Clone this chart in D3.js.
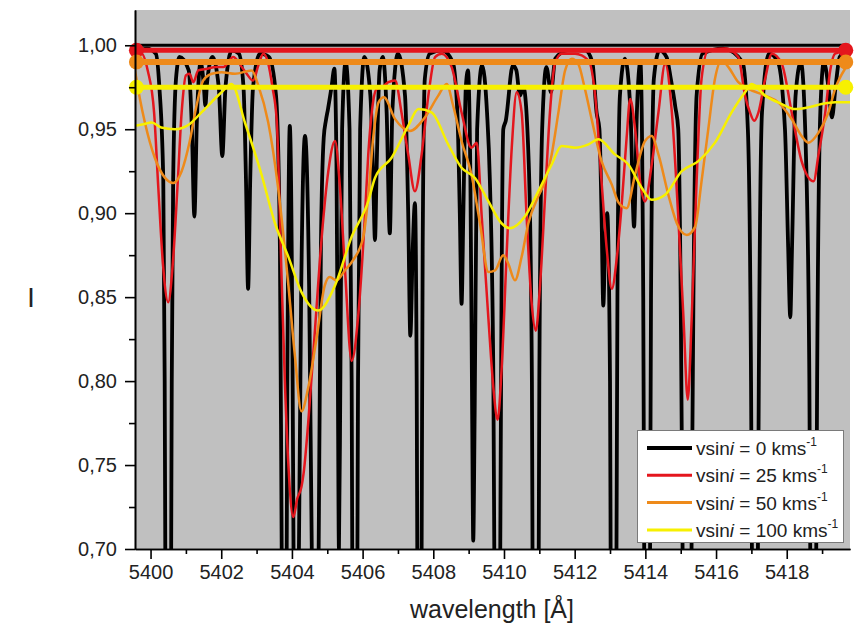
<!DOCTYPE html>
<html>
<head>
<meta charset="utf-8">
<script src="https://cdn.jsdelivr.net/npm/d3@7"></script>
<style>
  body { margin: 0; background: #fff; }
  svg { display: block; font-family: "Liberation Sans", Arial, sans-serif; }
</style>
</head>
<body>
<svg id="chart"></svg>
<script>
// ---- data: [wavelength (A), normalised intensity] ----
const xMajorTicks = [5400, 5402, 5404, 5406, 5408, 5410, 5412, 5414, 5416, 5418];
const xMinorTicks = [5401, 5403, 5405, 5407, 5409, 5411, 5413, 5415, 5417, 5419];
const yMajorTicks = [0.70, 0.75, 0.80, 0.85, 0.90, 0.95, 1.00];
const yMinorTicks = [0.725, 0.775, 0.825, 0.875, 0.925, 0.975];

const legendLabels = ["0", "25", "50", "100"];

// continuum levels (horizontal lines with end markers)
const contLevels = [1.000, 0.997, 0.990, 0.975];
const contEnds = [5399.6, 5419.67];

const spec0 = [
  [5399.56,0.995],[5399.9,0.998],[5400.15,0.995],
  [5400.25,0.975],[5400.36,0.92],[5400.40,0.80],[5400.42,0.68],[5400.50,0.45],[5400.58,0.68],[5400.60,0.80],[5400.64,0.92],[5400.72,0.98],
  [5400.82,0.993],
  [5401.08,0.985],[5401.17,0.95],[5401.24,0.898],[5401.31,0.955],
  [5401.42,0.99],
  [5401.51,0.975],[5401.55,0.964],[5401.60,0.978],
  [5401.75,0.993],
  [5401.93,0.975],[5402.03,0.934],[5402.12,0.975],
  [5402.3,0.997],[5402.5,0.995],
  [5402.63,0.975],[5402.70,0.92],[5402.76,0.855],[5402.82,0.92],[5402.9,0.975],
  [5403.1,0.995],[5403.35,0.993],
  [5403.55,0.97],[5403.66,0.88],[5403.71,0.70],[5403.80,0.45],[5403.87,0.80],
  [5403.94,0.952],
  [5404.02,0.80],[5404.05,0.68],[5404.12,0.45],[5404.19,0.68],[5404.26,0.85],
  [5404.37,0.946],
  [5404.49,0.85],[5404.57,0.68],[5404.66,0.45],[5404.75,0.68],[5404.82,0.88],
  [5404.90,0.945],[5404.96,0.955],[5405.02,0.962],[5405.12,0.975],[5405.2,0.986],
  [5405.26,0.93],[5405.30,0.80],[5405.33,0.70],[5405.37,0.80],[5405.42,0.95],
  [5405.52,0.99],
  [5405.63,0.95],[5405.69,0.80],[5405.71,0.68],[5405.78,0.45],[5405.85,0.68],[5405.87,0.80],[5405.93,0.95],
  [5406.05,0.993],
  [5406.22,0.97],[5406.30,0.92],[5406.35,0.884],[5406.40,0.93],[5406.48,0.985],
  [5406.57,0.993],
  [5406.68,0.96],[5406.77,0.888],[5406.84,0.96],
  [5407.0,0.995],
  [5407.20,0.97],[5407.29,0.90],[5407.35,0.827],[5407.42,0.88],[5407.48,0.906],
  [5407.53,0.80],[5407.55,0.68],[5407.61,0.45],[5407.67,0.70],[5407.70,0.88],[5407.76,0.98],
  [5407.9,0.995],[5408.25,0.997],[5408.55,0.99],
  [5408.68,0.96],[5408.75,0.90],[5408.80,0.846],[5408.85,0.90],[5408.92,0.975],
  [5408.98,0.985],
  [5409.05,0.92],[5409.10,0.78],[5409.13,0.705],[5409.17,0.78],[5409.24,0.95],
  [5409.38,0.988],
  [5409.52,0.96],[5409.60,0.92],
  [5409.70,0.80],[5409.73,0.68],[5409.81,0.45],[5409.89,0.68],[5409.93,0.85],[5409.98,0.95],[5410.05,0.955],
  [5410.25,0.988],[5410.35,0.985],[5410.45,0.97],[5410.55,0.975],
  [5410.70,0.93],[5410.79,0.80],[5410.81,0.68],[5410.90,0.45],[5410.98,0.68],[5411.0,0.80],[5411.08,0.95],
  [5411.2,0.987],[5411.33,0.972],[5411.45,0.992],[5411.8,0.997],[5412.3,0.997],[5412.5,0.99],
  [5412.62,0.96],[5412.7,0.95],
  [5412.76,0.90],[5412.81,0.845],[5412.86,0.88],[5412.92,0.90],
  [5413.0,0.80],[5413.02,0.68],[5413.10,0.45],[5413.18,0.68],[5413.21,0.85],[5413.28,0.97],
  [5413.42,0.992],
  [5413.58,0.96],[5413.68,0.892],[5413.76,0.96],
  [5413.86,0.99],
  [5413.94,0.85],[5413.97,0.68],[5414.05,0.45],[5414.13,0.68],[5414.16,0.85],[5414.24,0.98],
  [5414.4,0.997],[5414.6,0.993],[5414.72,0.98],
  [5414.85,0.963],[5414.93,0.95],
  [5415.0,0.85],[5415.06,0.68],[5415.18,0.42],[5415.30,0.68],[5415.36,0.85],[5415.45,0.97],
  [5415.62,0.995],[5416.2,0.998],[5416.75,0.99],
  [5416.90,0.95],[5416.99,0.80],[5417.02,0.68],[5417.10,0.45],[5417.18,0.68],[5417.21,0.80],[5417.30,0.96],
  [5417.5,0.995],[5417.75,0.99],
  [5417.95,0.95],[5418.04,0.88],[5418.1,0.838],[5418.15,0.88],[5418.25,0.97],
  [5418.40,0.99],
  [5418.55,0.93],[5418.64,0.80],[5418.67,0.68],[5418.75,0.45],[5418.83,0.68],[5418.86,0.80],[5418.95,0.96],
  [5419.05,0.99],
  [5419.18,0.975],[5419.28,0.957],[5419.38,0.975],
  [5419.5,0.993],[5419.79,0.998]
];

const spec25 = [
  [5399.56,0.99],[5399.75,0.995],[5399.92,0.985],
  [5400.10,0.96],[5400.22,0.915],[5400.35,0.87],[5400.50,0.847],[5400.63,0.87],[5400.76,0.915],[5400.88,0.96],[5401.0,0.982],
  [5401.1,0.983],[5401.21,0.978],[5401.35,0.985],[5401.6,0.986],[5401.85,0.987],[5402.06,0.987],[5402.34,0.993],
  [5402.55,0.988],[5402.72,0.983],[5402.9,0.979],[5403.05,0.988],[5403.19,0.995],[5403.32,0.99],[5403.45,0.975],[5403.57,0.955],
  [5403.71,0.86],[5403.80,0.80],[5403.90,0.75],[5404.04,0.719],[5404.15,0.73],[5404.27,0.737],[5404.33,0.745],
  [5404.46,0.775],[5404.65,0.83],[5404.84,0.885],[5405.03,0.925],[5405.22,0.943],[5405.36,0.915],[5405.50,0.867],
  [5405.69,0.812],[5405.88,0.84],[5406.07,0.90],[5406.16,0.935],[5406.27,0.962],[5406.4,0.974],[5406.55,0.975],
  [5406.73,0.978],[5406.92,0.979],
  [5407.10,0.960],[5407.29,0.935],[5407.48,0.913],[5407.67,0.935],[5407.86,0.970],[5408.05,0.993],[5408.24,0.995],
  [5408.52,0.987],[5408.80,0.960],[5409.08,0.939],[5409.23,0.942],[5409.37,0.898],[5409.56,0.837],[5409.70,0.796],
  [5409.82,0.777],[5409.93,0.806],[5410.08,0.878],[5410.22,0.939],[5410.36,0.972],[5410.50,0.960],[5410.64,0.898],
  [5410.78,0.847],[5410.90,0.830],[5411.02,0.857],[5411.16,0.909],[5411.30,0.960],[5411.44,0.989],[5411.63,0.995],
  [5412.01,0.995],[5412.39,0.991],[5412.58,0.970],[5412.76,0.919],[5412.91,0.878],[5413.05,0.855],[5413.2,0.875],
  [5413.33,0.905],[5413.47,0.945],[5413.57,0.968],[5413.71,0.950],[5413.85,0.919],[5413.99,0.907],[5414.18,0.929],
  [5414.37,0.960],[5414.56,0.989],[5414.75,0.960],[5414.93,0.898],[5415.08,0.837],[5415.20,0.789],[5415.31,0.837],
  [5415.45,0.919],[5415.59,0.980],[5415.78,0.997],[5416.26,0.998],[5416.63,0.993],[5416.82,0.970],[5416.96,0.960],
  [5417.08,0.955],[5417.2,0.960],[5417.39,0.980],[5417.58,0.995],[5417.86,0.989],[5418.14,0.960],[5418.42,0.931],
  [5418.76,0.919],[5418.90,0.935],[5419.09,0.960],[5419.23,0.985],[5419.37,0.995],[5419.79,0.997]
];

const spec50 = [
  [5399.56,0.985],[5399.7,0.968],[5399.84,0.954],[5400.12,0.933],[5400.41,0.921],[5400.64,0.918],[5400.88,0.925],
  [5401.11,0.943],[5401.30,0.964],[5401.49,0.979],[5401.73,0.983],[5402.01,0.984],[5402.39,0.983],[5402.86,0.985],
  [5403.05,0.976],[5403.33,0.954],[5403.61,0.915],[5403.90,0.857],[5404.08,0.816],[5404.27,0.782],[5404.46,0.796],
  [5404.70,0.826],[5404.93,0.857],[5405.07,0.862],[5405.26,0.860],[5405.5,0.866],[5405.73,0.872],[5406.02,0.886],
  [5406.16,0.91],[5406.3,0.945],[5406.45,0.966],[5406.6,0.969],
  [5406.92,0.956],[5407.34,0.949],[5407.76,0.957],[5408.14,0.970],[5408.38,0.977],[5408.55,0.965],[5408.80,0.943],
  [5409.08,0.923],[5409.32,0.894],[5409.56,0.865],[5409.75,0.866],[5409.98,0.875],[5410.12,0.870],[5410.31,0.860],
  [5410.50,0.874],[5410.69,0.894],[5410.97,0.910],[5411.16,0.919],[5411.35,0.935],[5411.54,0.960],[5411.73,0.985],
  [5411.92,0.992],[5412.10,0.989],[5412.29,0.974],[5412.48,0.956],[5412.76,0.931],[5413.05,0.917],[5413.25,0.906],
  [5413.47,0.903],[5413.71,0.923],[5413.99,0.943],[5414.18,0.946],[5414.37,0.935],[5414.65,0.911],[5414.89,0.894],
  [5415.17,0.887],[5415.41,0.892],[5415.59,0.919],[5415.78,0.950],[5415.97,0.980],[5416.16,0.991],[5416.35,0.987],
  [5416.63,0.978],[5416.92,0.974],[5417.39,0.970],[5417.76,0.966],[5418.14,0.956],[5418.42,0.946],[5418.61,0.942],
  [5418.90,0.948],[5419.18,0.960],[5419.37,0.974],[5419.65,0.986]
];

const spec100 = [
  [5399.56,0.952],[5399.8,0.953],[5400.03,0.954],[5400.3,0.951],[5400.69,0.950],[5401.1,0.953],[5401.44,0.960],
  [5402.01,0.972],[5402.29,0.977],[5402.67,0.954],[5403.14,0.923],[5403.52,0.894],[5403.90,0.874],[5404.27,0.853],
  [5404.74,0.842],[5405.22,0.857],[5405.69,0.886],[5406.16,0.907],[5406.35,0.921],[5406.82,0.933],[5407.29,0.952],
  [5407.58,0.962],[5407.95,0.960],[5408.42,0.941],[5408.80,0.927],[5409.18,0.921],[5409.56,0.907],[5409.93,0.894],
  [5410.17,0.891],[5410.59,0.898],[5410.97,0.913],[5411.35,0.929],[5411.63,0.940],[5412.01,0.939],[5412.39,0.941],
  [5412.67,0.944],[5413.14,0.935],[5413.52,0.929],[5413.90,0.915],[5414.18,0.908],[5414.56,0.911],[5415.03,0.925],
  [5415.50,0.931],[5415.97,0.942],[5416.44,0.960],[5416.82,0.972],[5417.01,0.977],[5417.39,0.970],[5417.86,0.965],
  [5418.24,0.962],[5418.61,0.963],[5418.99,0.965],[5419.37,0.966],[5419.79,0.966]
];

const series = [
  { data: spec0,   color: "#000000", width: 3.8 },
  { data: spec25,  color: "#e4161d", width: 2.5 },
  { data: spec50,  color: "#ee8a1a", width: 2.5 },
  { data: spec100, color: "#f7f000", width: 2.5 }
];

// ---- layout ----
const width = 856, height = 634;
const plot = { left: 135, right: 850, top: 10, bottom: 549 };

const svg = d3.select("#chart")
  .attr("width", width)
  .attr("height", height);

const x = d3.scaleLinear()
  .domain([5399.56, 5419.79])
  .range([plot.left, plot.right]);

const y = d3.scaleLinear()
  .domain([0.70, 1.021])
  .range([plot.bottom, plot.top]);

svg.append("defs").append("clipPath")
  .attr("id", "plotclip")
  .append("rect")
  .attr("x", plot.left)
  .attr("y", plot.top)
  .attr("width", plot.right - plot.left)
  .attr("height", plot.bottom - plot.top);

svg.append("rect")
  .attr("x", plot.left)
  .attr("y", plot.top)
  .attr("width", plot.right - plot.left)
  .attr("height", plot.bottom - plot.top)
  .attr("fill", "#c0c0c0");

const line = d3.line()
  .x(d => x(d[0]))
  .y(d => y(d[1]))
  .curve(d3.curveMonotoneX);

const g = svg.append("g").attr("clip-path", "url(#plotclip)");

series.forEach(s => {
  g.append("path")
    .datum(s.data)
    .attr("d", line)
    .attr("fill", "none")
    .attr("stroke", s.color)
    .attr("stroke-width", s.width)
    .attr("stroke-linejoin", "round");
});

// continuum lines with end markers
const contWidths = [3, 5, 6, 5];
contLevels.forEach((lev, i) => {
  g.append("line")
    .attr("x1", x(contEnds[0]))
    .attr("x2", x(contEnds[1]))
    .attr("y1", y(lev))
    .attr("y2", y(lev))
    .attr("stroke", series[i].color)
    .attr("stroke-width", contWidths[i]);
});
contLevels.forEach((lev, i) => {
  if (i === 0) return;
  contEnds.forEach(w => {
    svg.append("circle")
      .attr("cx", x(w))
      .attr("cy", y(lev))
      .attr("r", 7.5)
      .attr("fill", series[i].color);
  });
});

// ---- axes ----
const fmt = d => d3.format(".2f")(d).replace(".", ",");

const yAxis = svg.append("g")
  .attr("transform", `translate(${plot.left},0)`)
  .call(d3.axisLeft(y).tickValues(yMajorTicks).tickFormat(fmt).tickSize(10).tickSizeOuter(0));

const yMinor = svg.append("g")
  .attr("transform", `translate(${plot.left},0)`)
  .call(d3.axisLeft(y).tickValues(yMinorTicks).tickFormat("").tickSize(6).tickSizeOuter(0));

const xAxis = svg.append("g")
  .attr("transform", `translate(0,${plot.bottom})`)
  .call(d3.axisBottom(x).tickValues(xMajorTicks).tickFormat(d3.format("d")).tickSize(10).tickSizeOuter(0));

const xMinor = svg.append("g")
  .attr("transform", `translate(0,${plot.bottom})`)
  .call(d3.axisBottom(x).tickValues(xMinorTicks).tickFormat("").tickSize(5).tickSizeOuter(0));

[yAxis, yMinor, xAxis, xMinor].forEach(ax => {
  ax.select(".domain").attr("stroke", "#000").attr("stroke-width", 1.6);
  ax.selectAll(".tick line").attr("stroke", "#000").attr("stroke-width", 1.6);
  ax.selectAll(".tick text")
    .attr("fill", "#222")
    .style("font-size", "20px")
    .style("font-family", '"Liberation Sans", Arial, sans-serif');
});
yAxis.selectAll(".tick text").attr("x", -18);
xAxis.selectAll(".tick text").attr("y", 16);

svg.append("text")
  .attr("x", 492)
  .attr("y", 618)
  .attr("text-anchor", "middle")
  .attr("fill", "#222")
  .style("font-size", "25px")
  .text("wavelength [Å]");

svg.append("text")
  .attr("x", 31)
  .attr("y", 307)
  .attr("text-anchor", "middle")
  .attr("fill", "#222")
  .style("font-size", "27px")
  .text("I");

// ---- legend ----
const leg = svg.append("g");
leg.append("rect")
  .attr("x", 637.5)
  .attr("y", 430.5)
  .attr("width", 206)
  .attr("height", 112)
  .attr("fill", "#fff")
  .attr("stroke", "#7a7a7a")
  .attr("stroke-width", 1);

legendLabels.forEach((lab, i) => {
  const yy = 448 + i * 27.3;
  leg.append("line")
    .attr("x1", 647)
    .attr("x2", 692)
    .attr("y1", yy)
    .attr("y2", yy)
    .attr("stroke", series[i].color)
    .attr("stroke-width", i === 0 ? 4 : 3);
  const t = leg.append("text")
    .attr("x", 696)
    .attr("y", yy + 7)
    .attr("fill", "#222")
    .style("font-size", "19px");
  t.append("tspan").text("vsin");
  t.append("tspan").style("font-style", "italic").text("i");
  t.append("tspan").text(` = ${lab} kms`);
  t.append("tspan").attr("dy", -9).style("font-size", "12px").text("-1");
});
</script>
</body>
</html>
